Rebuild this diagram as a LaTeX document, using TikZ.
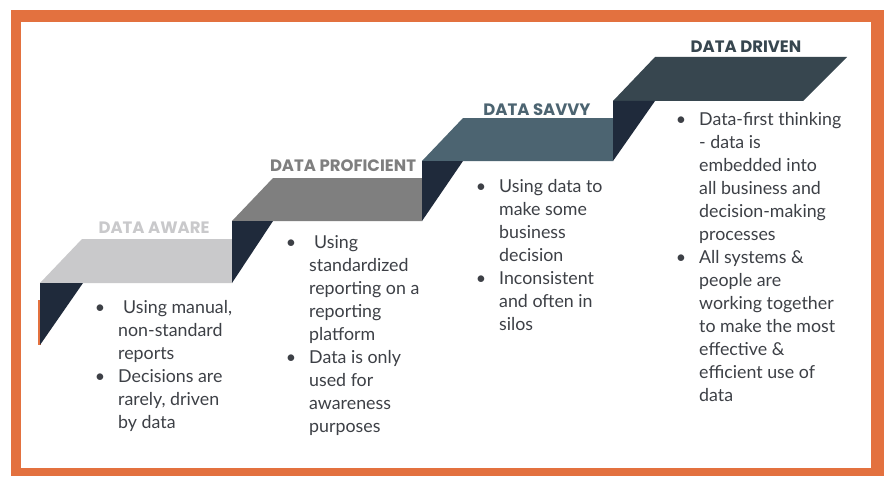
\documentclass[tikz,border=0pt]{standalone}
\usepackage{fontspec}
\setmainfont{Lato}
\newfontfamily\titlefont{Poppins}

\definecolor{frame}{HTML}{E3713F}
\definecolor{riser}{HTML}{1F2A3B}
\definecolor{awarecol}{HTML}{C9C9CB}
\definecolor{proficientcol}{HTML}{7F7F7F}
\definecolor{savvycol}{HTML}{4C6471}
\definecolor{drivencol}{HTML}{37464F}
\definecolor{bodytext}{HTML}{3D4046}

\newcommand{\dotitem}{\llap{\textbullet\hspace{13pt}}}

\tikzset{
  title/.style={anchor=base, inner sep=0pt, font=\titlefont\bfseries\fontsize{16.5}{19}\selectfont},
  item/.style={anchor=base west, align=left, inner sep=0pt, text=bodytext,
    font=\fontsize{17.8}{23}\selectfont}
}

\begin{document}
\begin{tikzpicture}[x=1pt, y=-1pt]
			\useasboundingbox (0,0) rectangle (885,476);
			% frame
			\fill[frame] (11,10) rectangle (884,476);
			\fill[white] (21,22) rectangle (871,468);
			\fill[frame] (38,300) rectangle (41,345);

			% treads
			\fill[awarecol] (40,283) -- (82,239) -- (232,239) -- (232,283) -- cycle;
			\fill[proficientcol] (232,221) -- (273,178) -- (422,178) -- (422,221) -- cycle;
			\fill[savvycol] (422,161) -- (463,118) -- (613,118) -- (613,161) -- cycle;
			\fill[drivencol] (613,101) -- (655,57) -- (847,57) -- (803,101) -- cycle;

			% risers
			\fill[riser] (40,283) -- (83,283) -- (40,345) -- cycle;
			\fill[riser] (232,221) -- (273,221) -- (232,283) -- cycle;
			\fill[riser] (422,161) -- (463,161) -- (422,221) -- cycle;
			\fill[riser] (613,101) -- (655,101) -- (613,161) -- cycle;

			% titles
			\node[title, text=awarecol] (aware) at (154,233) {DATA AWARE};
			\node[title, text=proficientcol] (proficient) at (343,171) {DATA PROFICIENT};
			\node[title, text=savvycol] (savvy) at (537,115) {DATA SAVVY};
			\node[title, text=drivencol] (driven) at (746,53) {DATA DRIVEN};

			% bullet points (placed at the baseline of their last line)
			\node[item] (aware1) at (118,359) {\dotitem\hspace{5pt}Using manual,\\ non-standard\\ reports};
			\node[item] (aware2) at (118,428) {\dotitem Decisions are\\ rarely, driven\\ by data};

			\node[item] (proficient1) at (309,340) {\dotitem\hspace{5pt}Using\\ standardized\\ reporting on a\\ reporting\\ platform};
			\node[item] (proficient2) at (309,432) {\dotitem Data is only\\ used for\\ awareness\\ purposes};

			\node[item] (savvy1) at (499,261) {\dotitem Using data to\\ make some\\ business\\ decision};
			\node[item] (savvy2) at (499,330) {\dotitem Inconsistent\\ and often in\\ silos};

			\node[item] (driven1) at (699,240) {\dotitem Data-first thinking\\ - data is\\ embedded into\\ all business and\\ decision-making\\ processes};
			\node[item] (driven2) at (699,401) {\dotitem All systems \&\\ people are\\ working together\\ to make the most\\ effective \&\\ efficient use of\\ data};
		\end{tikzpicture}
\end{document}
